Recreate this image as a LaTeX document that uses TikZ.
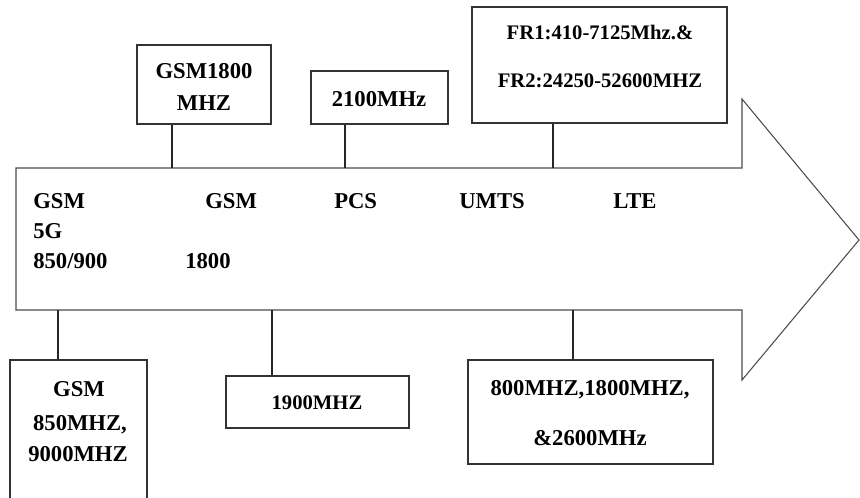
\documentclass[tikz,border=0pt]{standalone}
\usepackage{fontspec}
\setmainfont{Liberation Serif}
\begin{document}
\begin{tikzpicture}[x=0.75pt,y=-0.75pt,
  box/.style={draw=black!80, line width=0.8pt, rectangle, inner sep=0pt},
  big/.style={font=\bfseries\fontsize{17}{20}\selectfont, inner sep=0pt},
  small/.style={font=\bfseries\fontsize{15.5}{18}\selectfont, inner sep=0pt},
  lbl/.style={big, anchor=base},
  lblw/.style={big, anchor=base west},
  conn/.style={draw=black!85, line width=0.8pt},
  arrowline/.style={draw=black!70, line width=0.8pt}]
\useasboundingbox (0,0) rectangle (860,497);
\clip (0,0) rectangle (860,497);

% big arrow
\draw[arrowline] (16,168) -- (742,168) -- (742,99) -- (859,240) -- (742,380) -- (742,310) -- (16,310) -- cycle;

% connector ends on the arrow
\coordinate (c1) at (172,168);
\coordinate (c2) at (345,168);
\coordinate (c3) at (553,168);
\coordinate (c4) at (58,310);
\coordinate (c5) at (272,310);
\coordinate (c6) at (573,310);

% boxes
\node[box, minimum width=100.5pt, minimum height=59.25pt] (b1) at (204,84.5) {};
\node[box, minimum width=102.75pt, minimum height=39.75pt] (b2) at (379.5,97.5) {};
\node[box, minimum width=191.25pt, minimum height=87pt] (b3) at (599.5,65) {};
\node[box, minimum width=102.75pt, minimum height=112.5pt] (b4) at (78.5,435) {};
\node[box, minimum width=137.25pt, minimum height=39pt] (b5) at (317.5,402) {};
\node[box, minimum width=183.75pt, minimum height=78pt] (b6) at (590.5,412) {};

% connectors
\draw[conn] (b1.south -| c1) -- (c1);
\draw[conn] (b2.south -| c2) -- (c2);
\draw[conn] (b3.south -| c3) -- (c3);
\draw[conn] (b4.north -| c4) -- (c4);
\draw[conn] (b5.north -| c5) -- (c5);
\draw[conn] (b6.north -| c6) -- (c6);

% box texts
\node[lbl] (t1a) at (204,78) {GSM1800};
\node[lbl] (t1b) at (204,110) {MHZ};
\node[lbl] (t2) at (379,106) {2100MHz};
\node[small, anchor=base] (t3a) at (600,39) {FR1:410-7125Mhz.\&};
\node[small, anchor=base] (t3b) at (600,87) {FR2:24250-52600MHZ};
\node[lbl] (t4a) at (79,396) {GSM};
\node[lbl] (t4b) at (80,430) {850MHZ,};
\node[lbl] (t4c) at (78,461) {9000MHZ};
\node[small, anchor=base] (t5) at (317,409) {1900MHZ};
\node[lbl] (t6a) at (590,395) {800MHZ,1800MHZ,};
\node[lbl] (t6b) at (590,445) {\&2600MHz};

% arrow texts
\node[lblw] (g1) at (33,208) {GSM};
\node[lblw] (g2) at (33,238) {5G};
\node[lblw] (g3) at (33,268) {850/900};
\node[lblw] (g4) at (205,208) {GSM};
\node[lblw] (g5) at (185,268) {1800};
\node[lblw] (g6) at (334,208) {PCS};
\node[lblw] (g7) at (459,208) {UMTS};
\node[lblw] (g8) at (613,208) {LTE};
\end{tikzpicture}
\end{document}
